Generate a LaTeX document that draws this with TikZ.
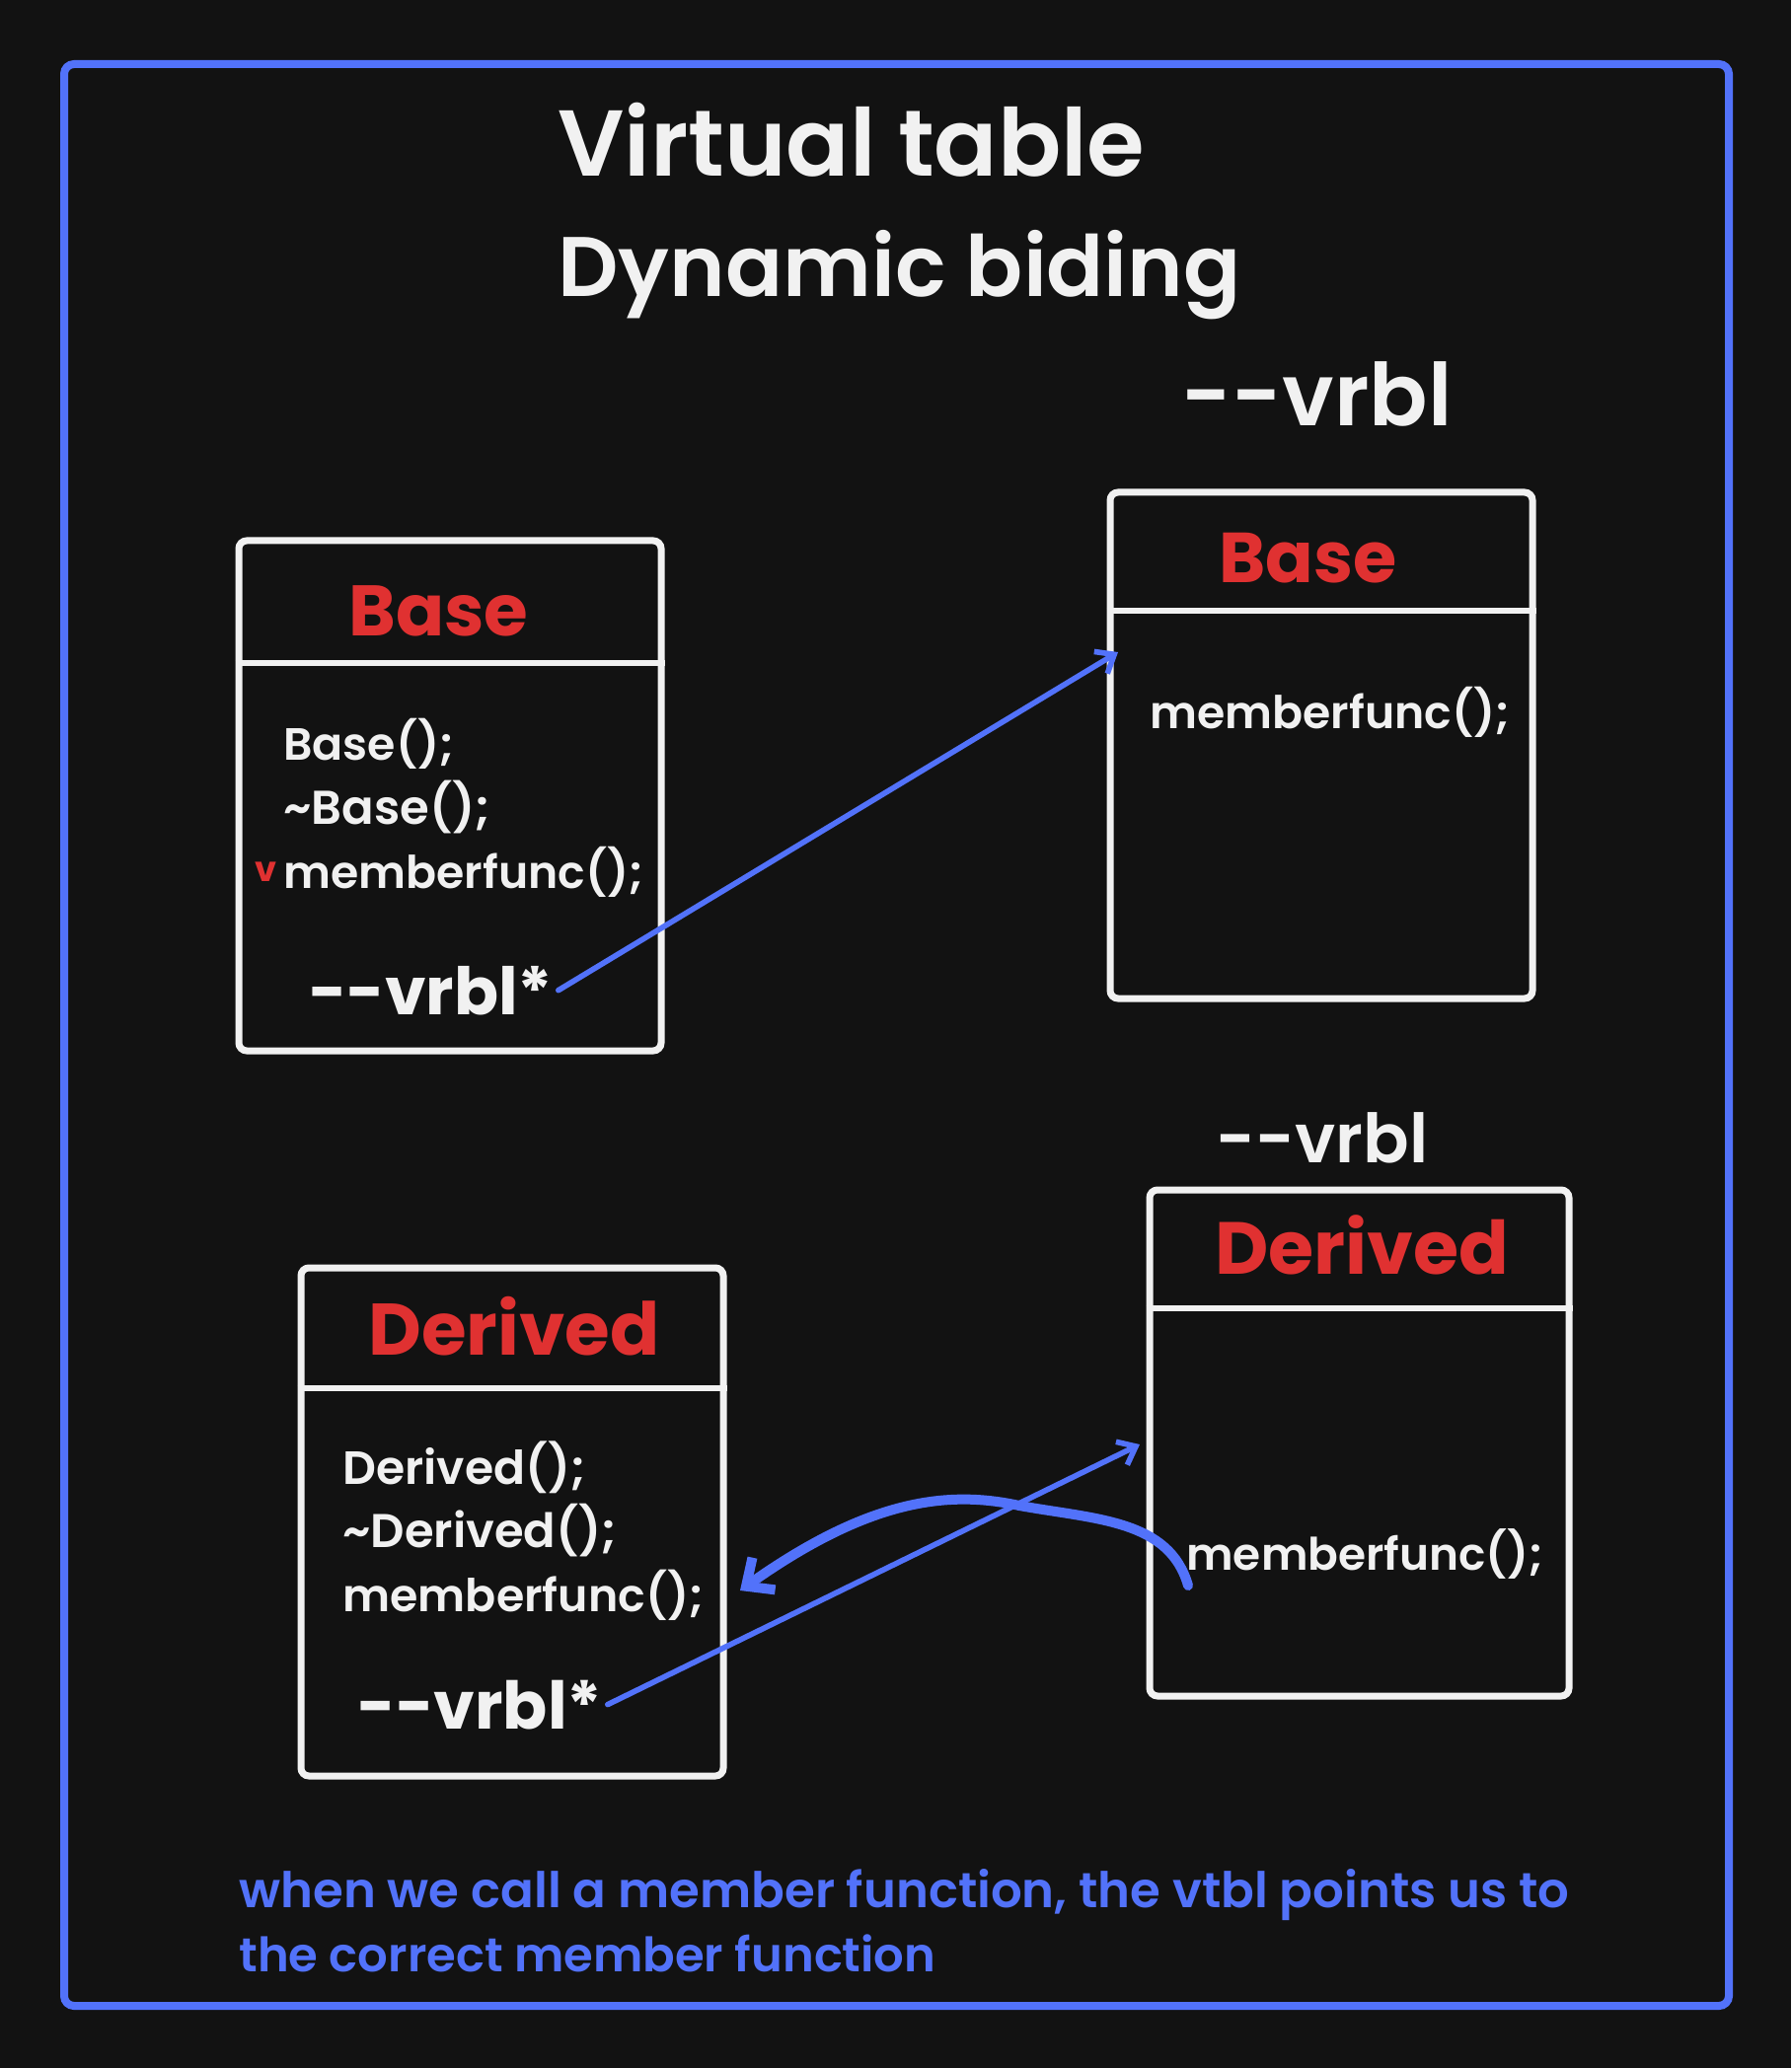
\documentclass[tikz,border=0pt]{standalone}
\usepackage{fontspec}
\usepackage{graphicx}
\setmainfont{Poppins}
\newfontfamily\semib{Poppins SemiBold}
\usetikzlibrary{arrows.meta}
\definecolor{bgc}{RGB}{18,18,18}
\definecolor{wc}{RGB}{241,241,241}
\definecolor{rc}{RGB}{224,49,49}
\definecolor{bc}{RGB}{82,114,250}
\newcommand{\fw}[2]{\resizebox{#1}{!}{#2}}
\begin{document}
\begin{tikzpicture}[x=0.5pt,y=-0.5pt,
  txt/.style={anchor=base west,inner sep=0pt,text=wc,font=\fontsize{20}{24}\selectfont\semib},
  hdr/.style={txt,text=rc,font=\fontsize{20}{24}\selectfont\bfseries},
  classbox/.style={draw=wc,line width=3.5pt,rounded corners=4pt,inner sep=0pt},
  divider/.style={draw=wc,line width=3pt},
  link/.style={draw=bc,line width=2.8pt,line cap=round,-{Straight Barb[length=8pt,width=13pt,line width=2.8pt]}},
  calllink/.style={draw=bc,line width=5pt,line cap=round,-{Straight Barb[length=11pt,width=20pt,line width=5pt]}}]
\fill[bgc] (0,0) rectangle (1815,2096);
\useasboundingbox (0,0) rectangle (1815,2096);
\node[draw=bc,line width=4pt,rounded corners=5pt,minimum width=843.5pt,minimum height=984pt,inner sep=0pt] (frame) at (908.5,1049) {};
% titles
\node[txt] (t1) at (565,179) {\fw{297.5pt}{Virtual table}};
\node[txt] (t2) at (565,301) {\fw{346pt}{Dynamic biding}};
\node[txt] (vt2) at (1197,432) {\fw{137pt}{-{}-vrbl}};
\node[txt] (vt4) at (1232,1178) {\fw{107.5pt}{-{}-vrbl}};
% boxes
\node[classbox,minimum width=214pt,minimum height=258.5pt] (b1) at (456,806.5) {};
\node[classbox,minimum width=214pt,minimum height=256.5pt] (b2) at (1339,755.5) {};
\node[classbox,minimum width=214pt,minimum height=257.5pt] (b3) at (519,1542.5) {};
\node[classbox,minimum width=212.5pt,minimum height=256.5pt] (b4) at (1377.5,1462.5) {};
\draw[divider] (b1.west |- 0,672) -- (b1.east |- 0,672);
\draw[divider] (b2.west |- 0,619) -- (b2.east |- 0,619);
\draw[divider] (b3.west |- 0,1407) -- (b3.east |- 0,1407);
\draw[divider] (b4.west |- 0,1326) -- (b4.east |- 0,1326);
% box 1
\node[hdr] (h1) at (353,644) {\fw{91pt}{Base}};
\node[txt] (b1l1) at (287,770) {\fw{86.5pt}{Base();}};
\node[txt] (b1l2) at (287,835) {\fw{105pt}{\textasciitilde Base();}};
\node[txt] (b1l3) at (287,900) {\fw{182.5pt}{memberfunc();}};
\node[hdr] (b1v) at (258,893) {\fw{11pt}{v}};
\node[txt,font=\fontsize{20}{24}\selectfont\bfseries] (v1) at (313,1028) {\fw{123.5pt}{-{}-vrbl*}};
% box 2
\node[hdr] (h2) at (1235,590) {\fw{90pt}{Base}};
\node[txt] (b2l1) at (1165,738) {\fw{182.5pt}{memberfunc();}};
% box 3
\node[hdr] (h3) at (373,1373) {\fw{147.5pt}{Derived}};
\node[txt] (b3l1) at (347,1504) {\fw{123pt}{Derived();}};
\node[txt] (b3l2) at (347,1568) {\fw{139pt}{\textasciitilde Derived();}};
\node[txt] (b3l3) at (347,1633) {\fw{183pt}{memberfunc();}};
\node[txt,font=\fontsize{20}{24}\selectfont\bfseries] (v3) at (362,1752) {\fw{124pt}{-{}-vrbl*}};
% box 4
\node[hdr] (h4) at (1231,1291) {\fw{149pt}{Derived}};
\node[txt] (b4l1) at (1202,1591) {\fw{181pt}{memberfunc();}};
% bottom note
\node[txt,text=bc] (n1) at (242,1933) {\fw{674pt}{when we call a member function, the vtbl points us to}};
\node[txt,text=bc] (n2) at (242,1998) {\fw{353pt}{the correct member function}};
% connectors
\coordinate (e1) at (1133,661);
\coordinate (e3) at (1155,1464);
\coordinate (s4) at (1204,1607);
\coordinate (e4) at (750,1612);
\draw[link] ([xshift=2.5pt]v1.east) -- (e1);
\draw[link] ([xshift=2.5pt]v3.east) -- (e3);
\draw[calllink] (s4) .. controls (1185,1540) and (1110,1540) .. (1033,1526)
  .. controls (960,1510) and (880,1520) .. (e4);
\end{tikzpicture}
\end{document}
